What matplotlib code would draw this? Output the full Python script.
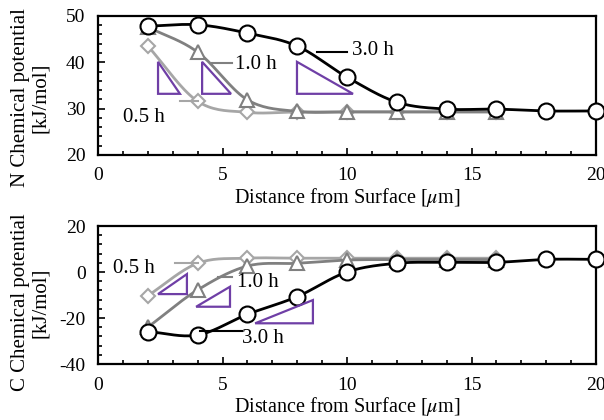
import numpy as np
import matplotlib.pyplot as plt
import matplotlib.patches as patches
from matplotlib.ticker import MultipleLocator

plt.rcParams['font.family'] = ['Liberation Serif', 'DejaVu Serif']
plt.rcParams['mathtext.fontset'] = 'stix'
plt.rcParams['axes.unicode_minus'] = False

# Datos
dist = [2, 4, 6, 8, 10, 12, 14, 16, 18, 20]

n_x05 = [2, 4, 6, 8, 10, 12, 14, 16]
n_05 = [43.5, 31.6, 29.2, 29.3, 29.3, 29.3, 29.3, 29.3]
n_x10 = [2, 4, 6, 8, 10, 12, 14, 16]
n_10 = [47.6, 42.2, 31.9, 29.4, 29.3, 29.3, 29.3, 29.3]
n_30 = [47.8, 48.1, 46.3, 43.5, 36.8, 31.4, 29.9, 29.9, 29.5, 29.5]

c_x05 = [2, 4, 6, 8, 10, 12, 14, 16]
c_05 = [-10.3, 3.8, 6.0, 6.0, 6.0, 6.0, 6.0, 6.0]
c_x10 = [2, 4, 6, 8, 10, 12, 14, 16]
c_10 = [-24.0, -7.8, 2.6, 3.8, 5.2, 5.4, 5.4, 5.4]
c_30 = [-25.9, -27.4, -18.4, -10.7, 0.0, 3.8, 4.2, 4.2, 5.5, 5.5]


def suavizar(x, y, n=20):
    # Curva tipo Catmull-Rom (como las lineas suavizadas de Excel)
    x = np.asarray(x, float)
    y = np.asarray(y, float)
    px = np.concatenate([[2 * x[0] - x[1]], x, [2 * x[-1] - x[-2]]])
    py = np.concatenate([[2 * y[0] - y[1]], y, [2 * y[-1] - y[-2]]])
    xs, ys = [], []
    t = np.linspace(0, 1, n)
    for i in range(1, len(px) - 2):
        p0, p1, p2, p3 = (np.array([px[k], py[k]]) for k in range(i - 1, i + 3))
        b1 = p1 + (p2 - p0) / 6
        b2 = p2 - (p3 - p1) / 6
        seg = ((1 - t) ** 3)[:, None] * p1 + (3 * (1 - t) ** 2 * t)[:, None] * b1 \
            + (3 * (1 - t) * t ** 2)[:, None] * b2 + (t ** 3)[:, None] * p2
        xs.append(seg[:, 0])
        ys.append(seg[:, 1])
    return np.concatenate(xs), np.concatenate(ys)


def serie(ax, x, y, color, marker, ms, z):
    sx, sy = suavizar(x, y)
    ax.plot(sx, sy, color=color, lw=2, zorder=z, clip_on=False)
    ax.plot(x, y, ls='none', marker=marker, ms=ms, mfc='white', mec=color,
            mew=1.5, zorder=z + 0.5, clip_on=False)


def pendiente(ax, x0, x1, y0, y1, vertical_izq=True):
    if vertical_izq:
        pts = [(x0, y1), (x0, y0), (x1, y0)]
    else:
        pts = [(x0, y0), (x1, y1), (x1, y0)]
    ax.add_patch(patches.Polygon(pts, closed=True, fill=False,
                                 edgecolor='#6f3fa6', lw=1.6, zorder=8))


def etiqueta(ax, texto, lx0, lx1, ly, tx, ty, color):
    ax.plot([lx0, lx1], [ly, ly], color=color, lw=1.5, zorder=9)
    ax.text(tx, ty, texto, fontsize=15, ha='left', va='center', zorder=10)


def formato(ax, ymin, ymax, ymaj, ymin_step, ylabel, ylab_pos):
    ax.set_xlim(0, 20)
    ax.set_ylim(ymin, ymax)
    ax.xaxis.set_major_locator(MultipleLocator(5))
    ax.xaxis.set_minor_locator(MultipleLocator(1))
    ax.yaxis.set_major_locator(MultipleLocator(ymaj))
    ax.yaxis.set_minor_locator(MultipleLocator(ymin_step))
    ax.tick_params(which='both', direction='in', top=False, right=False,
                   labelsize=14, width=1.2)
    ax.tick_params(which='major', length=5, pad=9)
    ax.tick_params(which='minor', length=3)
    for s in ax.spines.values():
        s.set_linewidth(1.6)
    ax.set_xlabel(r'Distance from Surface [$\mu$m]', fontsize=14.5, labelpad=1)
    ax.set_ylabel(ylabel, fontsize=15, linespacing=1.05)
    ax.yaxis.set_label_coords(-0.097, ylab_pos)


fig = plt.figure(figsize=(6.04, 4.20), dpi=100)
ax1 = fig.add_axes([0.1623, 0.631, 0.8245, 0.331])
ax2 = fig.add_axes([0.1623, 0.1333, 0.8245, 0.3286])

# Panel N
serie(ax1, n_x05, n_05, '#a6a6a6', 'D', 7, 2)
serie(ax1, n_x10, n_10, '#808080', '^', 10, 3)
serie(ax1, dist, n_30, 'black', 'o', 11.5, 4)
pendiente(ax1, 2.41, 3.29, 33.2, 40.1)
pendiente(ax1, 4.18, 5.34, 33.2, 40.1)
pendiente(ax1, 7.99, 10.24, 33.2, 40.1)
etiqueta(ax1, '3.0 h', 8.8, 10.0, 42.3, 10.2, 42.6, 'black')
etiqueta(ax1, '1.0 h', 4.58, 5.4, 39.8, 5.5, 39.5, '#808080')
etiqueta(ax1, '0.5 h', 3.3, 4.0, 31.6, 1.0, 28.1, '#a6a6a6')
formato(ax1, 20, 50, 10, 2, 'N Chemical potential\n[kJ/mol]', 0.414)

# Panel C
serie(ax2, c_x05, c_05, '#a6a6a6', 'D', 7, 2)
serie(ax2, c_x10, c_10, '#808080', '^', 10, 3)
serie(ax2, dist, c_30, 'black', 'o', 11.5, 4)
pendiente(ax2, 2.41, 3.57, -9.6, -0.9, vertical_izq=False)
pendiente(ax2, 3.94, 5.30, -15.1, -6.4, vertical_izq=False)
pendiente(ax2, 6.31, 8.63, -22.3, -12.2, vertical_izq=False)
etiqueta(ax2, '0.5 h', 3.1, 4.0, 3.8, 0.6, 1.6, '#a6a6a6')
etiqueta(ax2, '1.0 h', 4.8, 5.4, -2.0, 5.6, -4.4, '#808080')
etiqueta(ax2, '3.0 h', 4.1, 5.8, -25.5, 5.8, -29.0, 'black')
formato(ax2, -40, 20, 20, 4, 'C Chemical potential\n[kJ/mol]', 0.446)

fig.savefig('out.png', dpi=100)
